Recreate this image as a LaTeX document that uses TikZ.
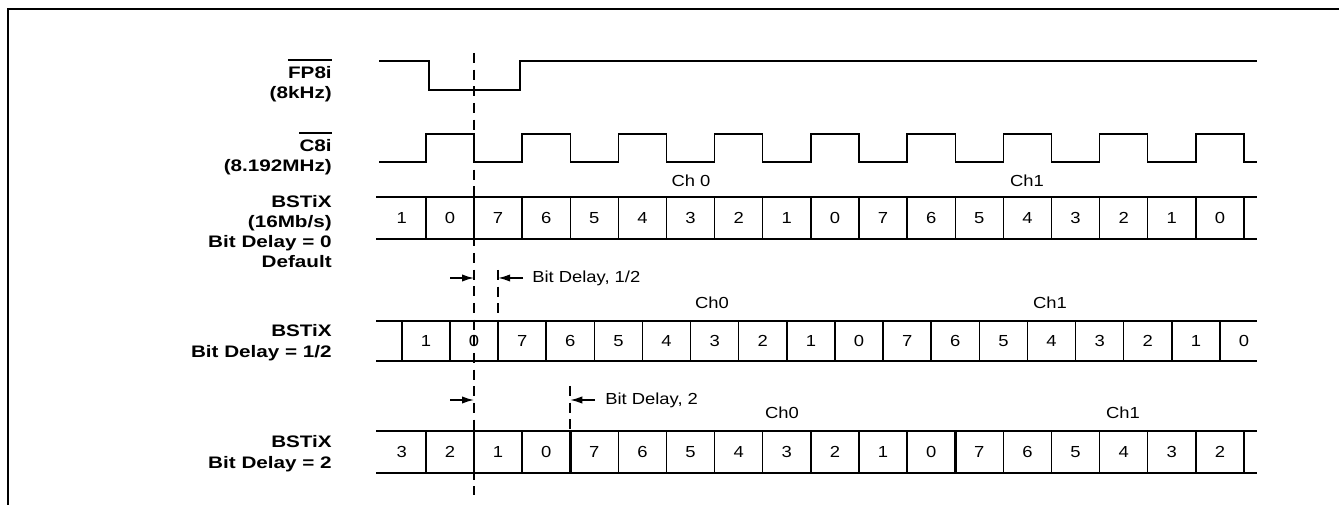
\documentclass[tikz,border=0pt]{standalone}
\usepackage{fontspec}
\setmainfont{Liberation Sans}[FakeStretch=1.15]
\newfontfamily\lblfont{Liberation Sans}[FakeStretch=1.24]
\usetikzlibrary{arrows.meta}

\tikzset{
  sig/.style={line width=1.1pt},
  bar/.style={line width=1.9pt},
  tline/.style={line width=1.2pt, dash pattern=on 7.5pt off 5pt},
  lbl/.style={font=\lblfont\bfseries\fontsize{12.5}{15}\selectfont, anchor=base east, inner sep=0pt},
  bitno/.style={font=\fontsize{12}{14}\selectfont, inner sep=0pt},
  dly/.style={-{Latex[length=9pt,width=5.5pt]}, line width=1.1pt},
}

\begin{document}
\begin{tikzpicture}[x=0.75pt,y=-0.75pt]
\useasboundingbox (0,0) rectangle (1339,505);
\def\tz{474}
\def\w{48.125}
\draw[line width=1.5pt] (7.5,505) -- (7.5,9.5) -- (1339,9.5);

% signal names
\node[lbl] (fpa) at (332,79) {FP8i};
\node[lbl] (fpb) at (332,99) {(8kHz)};
\node[lbl] (cka) at (332,152) {C8i};
\node[lbl] (ckb) at (332,172) {(8.192MHz)};
\node[lbl] (s1a) at (332,208) {BSTiX};
\node[lbl] (s1b) at (332,228) {(16Mb/s)};
\node[lbl] (s1c) at (332,248) {Bit Delay = 0};
\node[lbl] (s1d) at (332,268) {Default};
\node[lbl] (s2a) at (332,337) {BSTiX};
\node[lbl] (s2b) at (332,358) {Bit Delay = 1/2};
\node[lbl] (s3a) at (332,448) {BSTiX};
\node[lbl] (s3b) at (332,469) {Bit Delay = 2};
\draw[sig] ([yshift=5pt]fpa.north west) -- ([yshift=5pt]fpa.north east);
\draw[sig] ([yshift=5pt]cka.north west) -- ([yshift=5pt]cka.north east);

% FP8i and C8i
\draw[sig] (379,61) -- (429,61) -- (429,90) -- (520,90) -- (520,61) -- (1257,61);
\draw[sig] (379,162) foreach \j in {0,...,8}{
  -- ({\tz+(2*\j-1)*\w},162) -- ({\tz+(2*\j-1)*\w},134)
  -- ({\tz+2*\j*\w},134) -- ({\tz+2*\j*\w},162)} -- (1257,162);

% bit delay 0
\draw[sig] (376,197) -- (1257,197) (376,239) -- (1257,239);
\foreach \k in {-1,...,16} \draw[sig] ({\tz+\k*\w},197) -- ({\tz+\k*\w},239);
\foreach \k in {0,8,16} \draw[bar] ({\tz+\k*\w},197) -- ({\tz+\k*\w},239);
\foreach \k in {-2,...,15}{
  \pgfmathtruncatemacro\d{7-mod(\k+16,8)}
  \node[bitno] (a\k) at ({\tz+(\k+0.5)*\w},218) {\d};
}
\node[bitno] (ch1a) at (691,181) {Ch 0};
\node[bitno] (ch1b) at (1027,181) {Ch1};

% bit delay 1/2
\draw[sig] (376,321) -- (1257,321) (376,361) -- (1257,361);
\foreach \k in {-2,...,15} \draw[sig] ({\tz+(\k+0.5)*\w},321) -- ({\tz+(\k+0.5)*\w},361);
\foreach \k in {0,8} \draw[bar] ({\tz+(\k+0.5)*\w},321) -- ({\tz+(\k+0.5)*\w},361);
\foreach \k in {-2,...,15}{
  \pgfmathtruncatemacro\d{7-mod(\k+16,8)}
  \node[bitno] (b\k) at ({\tz+(\k+1)*\w},341) {\d};
}
\node[bitno] (ch2a) at (712,303) {Ch0};
\node[bitno] (ch2b) at (1050,303) {Ch1};

% bit delay 2
\draw[sig] (376,431) -- (1257,431) (376,473) -- (1257,473);
\foreach \k in {-1,...,16} \draw[sig] ({\tz+\k*\w},431) -- ({\tz+\k*\w},473);
\foreach \k in {2,10,16} \draw[bar] ({\tz+\k*\w},431) -- ({\tz+\k*\w},473);
\foreach \k in {-2,...,15}{
  \pgfmathtruncatemacro\d{7-mod(\k+14,8)}
  \node[bitno] (c\k) at ({\tz+(\k+0.5)*\w},452) {\d};
}
\node[bitno] (ch3a) at (782,413) {Ch0};
\node[bitno] (ch3b) at (1123,413) {Ch1};

% timing marks
\draw[tline] (\tz,53) -- (\tz,495);
\draw[tline] (498.1,270) -- (498.1,321);
\draw[tline] (570.25,386) -- (570.25,431);

\coordinate (p1) at (450,278);
\coordinate (q1) at (\tz,278);
\coordinate (p2) at (523,278);
\coordinate (q2) at (498.1,278);
\coordinate (p3) at (450,400);
\coordinate (q3) at (\tz,400);
\coordinate (p4) at (595,400);
\coordinate (q4) at (570.25,400);
\draw[dly] (p1) -- (q1);
\draw[dly] (p2) -- (q2);
\draw[dly] (p3) -- (q3);
\draw[dly] (p4) -- (q4);
\node[bitno, anchor=west] (bdh) at (532,278) {Bit Delay, 1/2};
\node[bitno, anchor=west] (bdt) at (605,400) {Bit Delay, 2};

\end{tikzpicture}
\end{document}
